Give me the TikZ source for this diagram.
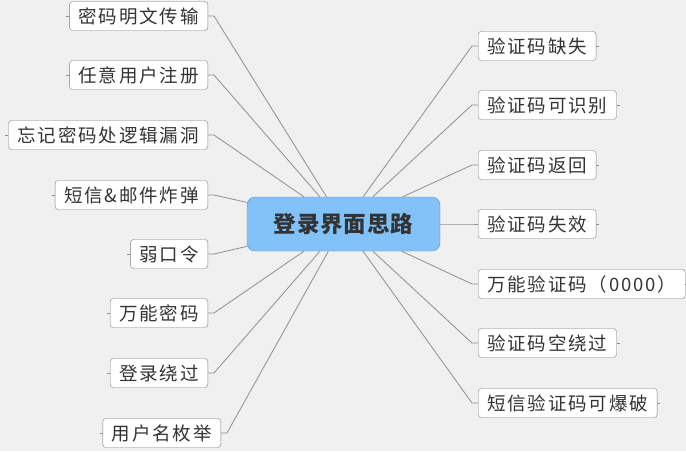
\documentclass[tikz,border=0pt]{standalone}
\usepackage{fontspec}
\newfontfamily\cjk{Noto Sans CJK SC}[LetterSpace=10]
\newfontfamily\cjkroot{Noto Sans CJK SC}[LetterSpace=4]
\definecolor{bgcol}{HTML}{F0F0F0}
\definecolor{linecol}{HTML}{8E8E8E}
\definecolor{rootcol}{HTML}{82C2F8}
\definecolor{rootline}{HTML}{6C8FB0}
\definecolor{textcol}{HTML}{333333}
\newcommand{\gap}{6}

\begin{document}
\begin{tikzpicture}[x=1pt, y=-1pt,
    leaf/.style={draw=linecol!90!black, fill=white, rounded corners=3pt, minimum height=29pt, inner xsep=9pt, inner ysep=0pt, text=textcol, font=\cjk\fontsize{18.5}{20}\selectfont},
    root/.style={draw=rootline, fill=rootcol, rounded corners=8pt, minimum width=193pt, minimum height=54pt, inner sep=0pt, text=textcol, font=\cjkroot\bfseries\fontsize{22.5}{24}\selectfont},
    link/.style={draw=linecol, line width=0.8pt}]
    \useasboundingbox (0,0) rectangle (686,451);
    \fill[bgcol] (0,0) rectangle (686,451);

    % Root
    \node[root] (root) at (343.5,224) {登录界面思路};

    % Left side
    \node[leaf, anchor=east] (left-1) at (208,16) {密码明文传输};
    \node[leaf, anchor=east] (left-2) at (208,75) {任意用户注册};
    \node[leaf, anchor=east] (left-3) at (208,135) {忘记密码处逻辑漏洞};
    \node[leaf, anchor=east] (left-4) at (208,195) {短信\&邮件炸弹};
    \node[leaf, anchor=east] (left-5) at (208,254) {弱口令};
    \node[leaf, anchor=east] (left-6) at (208,313) {万能密码};
    \node[leaf, anchor=east] (left-7) at (208,373) {登录绕过};
    \node[leaf, anchor=east] (left-8) at (221,433) {用户名枚举};

    % Right side
    \node[leaf, anchor=west] (right-1) at (478,46) {验证码缺失};
    \node[leaf, anchor=west] (right-2) at (478,105) {验证码可识别};
    \node[leaf, anchor=west] (right-3) at (478,165) {验证码返回};
    \node[leaf, anchor=west] (right-4) at (478,224) {验证码失效};
    \node[leaf, anchor=west] (right-5) at (478,284) {万能验证码（0000）};
    \node[leaf, anchor=west] (right-6) at (478,343) {验证码空绕过};
    \node[leaf, anchor=west] (right-7) at (478,403) {短信验证码可爆破};

    % Connectors
    \draw[link] (root) -- ([xshift=\gap pt]left-1.east) -- (left-1.east);
    \draw[link] (root) -- ([xshift=\gap pt]left-2.east) -- (left-2.east);
    \draw[link] (root) -- ([xshift=\gap pt]left-3.east) -- (left-3.east);
    \draw[link] (root) -- ([xshift=\gap pt]left-4.east) -- (left-4.east);
    \draw[link] (root) -- ([xshift=\gap pt]left-5.east) -- (left-5.east);
    \draw[link] (root) -- ([xshift=\gap pt]left-6.east) -- (left-6.east);
    \draw[link] (root) -- ([xshift=\gap pt]left-7.east) -- (left-7.east);
    \draw[link] (root) -- ([xshift=\gap pt]left-8.east) -- (left-8.east);

    \draw[link] (root) -- ([xshift=-\gap pt]right-1.west) -- (right-1.west);
    \draw[link] (root) -- ([xshift=-\gap pt]right-2.west) -- (right-2.west);
    \draw[link] (root) -- ([xshift=-\gap pt]right-3.west) -- (right-3.west);
    \draw[link] (root) -- ([xshift=-\gap pt]right-4.west) -- (right-4.west);
    \draw[link] (root) -- ([xshift=-\gap pt]right-5.west) -- (right-5.west);
    \draw[link] (root) -- ([xshift=-\gap pt]right-6.west) -- (right-6.west);
    \draw[link] (root) -- ([xshift=-\gap pt]right-7.west) -- (right-7.west);

    % Stubs
    \draw[link] (left-1.west) -- ++(-3,0);
    \draw[link] (left-2.west) -- ++(-3,0);
    \draw[link] (left-3.west) -- ++(-3,0);
    \draw[link] (left-4.west) -- ++(-3,0);
    \draw[link] (left-5.west) -- ++(-3,0);
    \draw[link] (left-6.west) -- ++(-3,0);
    \draw[link] (left-7.west) -- ++(-3,0);
    \draw[link] (left-8.west) -- ++(-3,0);
    \draw[link] (right-1.east) -- ++(3,0);
    \draw[link] (right-2.east) -- ++(3,0);
    \draw[link] (right-3.east) -- ++(3,0);
    \draw[link] (right-4.east) -- ++(3,0);
    \draw[link] (right-5.east) -- ++(3,0);
    \draw[link] (right-6.east) -- ++(3,0);
    \draw[link] (right-7.east) -- ++(3,0);
\end{tikzpicture}
\end{document}
